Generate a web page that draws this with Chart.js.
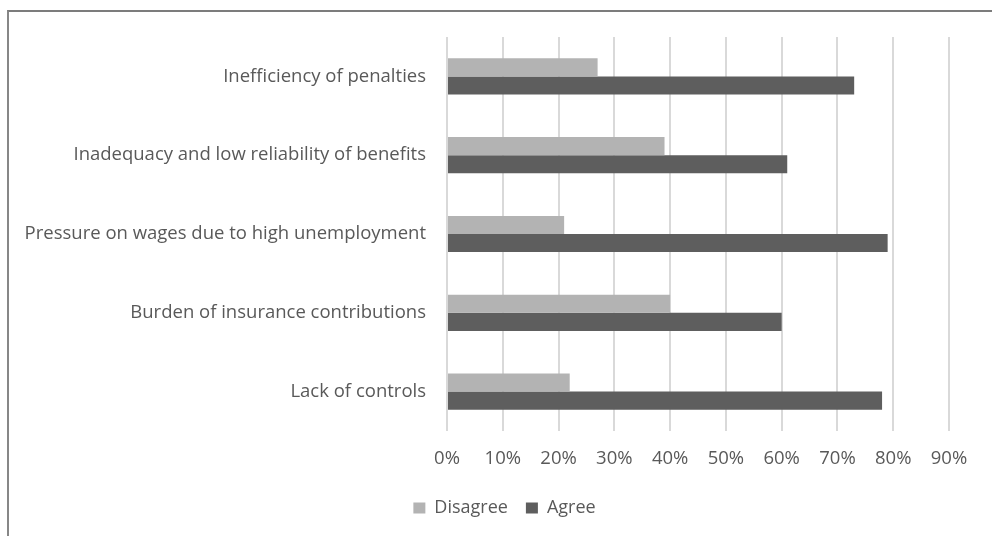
<!DOCTYPE html>
<html>
<head>
<meta charset="utf-8">
<script src="https://cdn.jsdelivr.net/npm/chart.js@4/dist/chart.umd.min.js"></script>
<style>
  html, body { margin: 0; padding: 0; background: #fff; }
  #wrap { position: relative; width: 992px; height: 536px; overflow: hidden; }
  #frame { position: absolute; left: 7px; top: 10px; width: 1100px; height: 700px;
           border-left: 2px solid #878787; border-top: 2px solid #7c7c7c; }
  #surveyChart { position: absolute; left: 0; top: 0; }
</style>
</head>
<body>
<div id="wrap">
  <div id="frame"></div>
  <canvas id="surveyChart" width="992" height="536"></canvas>
</div>
<script>
const categories = [
    'Inefficiency of penalties',
    'Inadequacy and low reliability of benefits',
    'Pressure on wages due to high unemployment',
    'Burden of insurance contributions',
    'Lack of controls'
];
const disagree = [27, 39, 21, 40, 22];
const agree = [73, 61, 79, 60, 78];
const xTicks = [0, 10, 20, 30, 40, 50, 60, 70, 80, 90];

const textColor = '#595959';
const baseFont = { family: '"Open Sans", sans-serif', size: 18.5 };

// nudge the bottom legend to the right so it sits under the middle of the page
const legendShift = {
    id: 'legendShift',
    afterLayout(chart) {
        const lg = chart.legend;
        if (lg) {
            lg.left += 30;
            lg.right += 30;
        }
    }
};

const ctx = document.getElementById('surveyChart');
new Chart(ctx, {
    type: 'bar',
    data: {
        labels: categories,
        datasets: [{
            label: 'Disagree',
            data: disagree,
            backgroundColor: '#b3b3b3',
            barPercentage: 1,
            categoryPercentage: 0.46
        }, {
            label: 'Agree',
            data: agree,
            backgroundColor: '#5e5e5e',
            barPercentage: 1,
            categoryPercentage: 0.46
        }]
    },
    plugins: [legendShift],
    options: {
        indexAxis: 'y',
        responsive: false,
        animation: false,
        layout: { padding: { left: 0, right: 43, top: 37, bottom: 9 } },
        plugins: {
            legend: {
                position: 'bottom',
                labels: {
                    color: textColor,
                    font: { family: '"Open Sans", sans-serif', size: 18 },
                    boxWidth: 12,
                    boxHeight: 11,
                    padding: 18
                }
            },
            tooltip: { enabled: false }
        },
        scales: {
            x: {
                min: 0,
                max: 90,
                afterBuildTicks: (axis) => { axis.ticks = xTicks.map(v => ({ value: v })); },
                ticks: {
                    color: textColor,
                    font: baseFont,
                    padding: 17,
                    callback: (v) => v + '%'
                },
                grid: { color: '#d9d9d9', lineWidth: 2, drawTicks: false },
                border: { display: false },
                afterFit: (axis) => { axis.height = 50; }
            },
            y: {
                ticks: { color: textColor, font: baseFont, padding: 13 },
                grid: { display: false },
                border: { display: false },
                afterFit: (axis) => { axis.width = 447; }
            }
        }
    }
});
</script>
</body>
</html>
